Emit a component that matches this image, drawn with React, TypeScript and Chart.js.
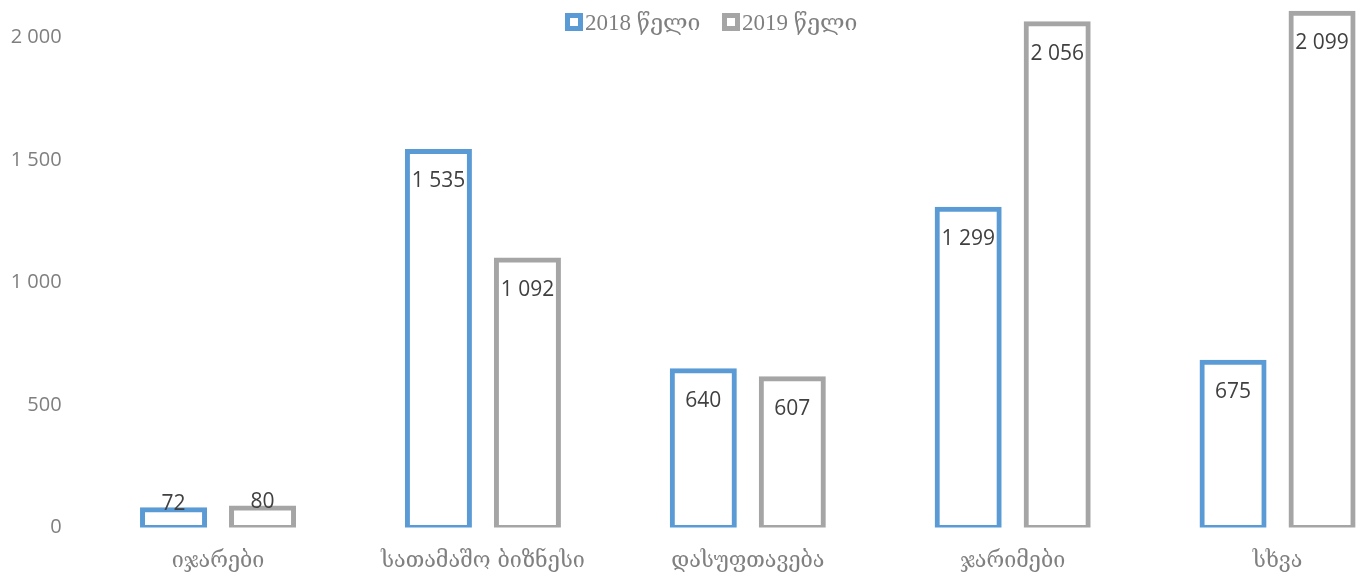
import React, { useEffect, useRef } from "react";
import { Chart, registerables } from "chart.js";

Chart.register(...registerables);

const categories = ["იჯარები", "სათამაშო ბიზნესი", "დასუფთავება", "ჯარიმები", "სხვა"];
const series2018 = [72, 1535, 640, 1299, 675];
const series2019 = [80, 1092, 607, 2056, 2099];
const seriesNames = ["2018 წელი", "2019 წელი"];
const yTicks = [0, 500, 1000, 1500, 2000];

const BLUE = "#5B9BD5";
const GRAY = "#A5A5A5";

const fmt = (v: number) => {
  const s = String(Math.round(v));
  return s.replace(/\B(?=(\d{3})+(?!\d))/g, " ");
};

const labelPlugin = {
  id: "barLabels",
  afterDatasetsDraw(chart: any) {
    const ctx = chart.ctx;
    ctx.save();
    ctx.font = '21px "Open Sans", "DejaVu Sans", sans-serif';
    ctx.fillStyle = "#404040";
    ctx.textAlign = "center";
    ctx.textBaseline = "middle";
    chart.data.datasets.forEach((ds: any, di: number) => {
      const meta = chart.getDatasetMeta(di);
      meta.data.forEach((bar: any, i: number) => {
        const v = ds.data[i];
        const h = bar.base - bar.y;
        const y = h > 60 ? bar.y + 30 : bar.y - 6;
        ctx.fillText(fmt(v), bar.x, y);
      });
    });
    ctx.restore();
  },
};

const legendPlugin = {
  id: "topLegend",
  afterDraw(chart: any) {
    const ctx = chart.ctx;
    ctx.save();
    const items = [
      { x: 565, color: BLUE, text: seriesNames[0] },
      { x: 722, color: GRAY, text: seriesNames[1] },
    ];
    items.forEach((it) => {
      ctx.fillStyle = it.color;
      ctx.fillRect(it.x, 13, 18, 18);
      ctx.fillStyle = "#ffffff";
      ctx.fillRect(it.x + 5, 18, 8, 8);
      ctx.fillStyle = "#7F7F7F";
      ctx.font = '23px "Liberation Serif", "DejaVu Serif", serif';
      ctx.textAlign = "left";
      ctx.textBaseline = "alphabetic";
      ctx.fillText(it.text, it.x + 20, 30);
    });
    ctx.restore();
  },
};

export default function App() {
  const ref = useRef<HTMLCanvasElement | null>(null);
  useEffect(() => {
    if (!ref.current) return;
    const chart = new Chart(ref.current, {
      type: "bar",
      data: {
        labels: categories,
        datasets: [
          {
            label: seriesNames[0],
            data: series2018,
            backgroundColor: "#ffffff",
            borderColor: BLUE,
            borderWidth: 5,
            borderSkipped: false,
            inflateAmount: 2.5,
            barPercentage: 0.697,
            categoryPercentage: 0.672,
          },
          {
            label: seriesNames[1],
            data: series2019,
            backgroundColor: "#ffffff",
            borderColor: GRAY,
            borderWidth: 5,
            borderSkipped: false,
            inflateAmount: 2.5,
            barPercentage: 0.697,
            categoryPercentage: 0.672,
          },
        ],
      },
      options: {
        responsive: false,
        animation: false,
        devicePixelRatio: 1,
        layout: { padding: { top: 0.75, left: 0, right: 0, bottom: 0 } },
        plugins: {
          legend: { display: false },
          tooltip: { enabled: false },
        },
        scales: {
          x: {
            grid: { display: false },
            border: { display: false },
            ticks: {
              color: "#808080",
              font: { family: '"DejaVu Serif", serif', size: 21.5 },
              padding: 13,
              maxRotation: 0,
              autoSkip: false,
            },
            afterFit: (s: any) => {
              s.height = 49.5;
              s.paddingLeft = 0;
              s.paddingRight = 0;
              s.paddingTop = 0;
              s.paddingBottom = 0;
            },
          },
          y: {
            min: 0,
            max: 2150,
            grid: { display: false },
            border: { display: false },
            afterBuildTicks: (s: any) => {
              s.ticks = yTicks.map((v) => ({ value: v }));
            },
            ticks: {
              color: "#7F7F7F",
              font: { family: '"Open Sans", "DejaVu Sans", sans-serif', size: 20 },
              padding: 16,
              callback: (v: any) => fmt(Number(v)),
            },
            afterFit: (s: any) => {
              s.width = 85.6;
              s.paddingTop = 0;
              s.paddingBottom = 0;
              s.paddingLeft = 0;
              s.paddingRight = 0;
            },
          },
        },
      },
      plugins: [labelPlugin, legendPlugin],
    });
    return () => chart.destroy();
  }, []);
  return (
    <div
      style={{
        position: "fixed",
        left: 0,
        top: 0,
        width: 1364,
        height: 577,
        overflow: "hidden",
        background: "#ffffff",
      }}
    >
      <canvas ref={ref} width={1410} height={577} style={{ display: "block" }} />
    </div>
  );
}
